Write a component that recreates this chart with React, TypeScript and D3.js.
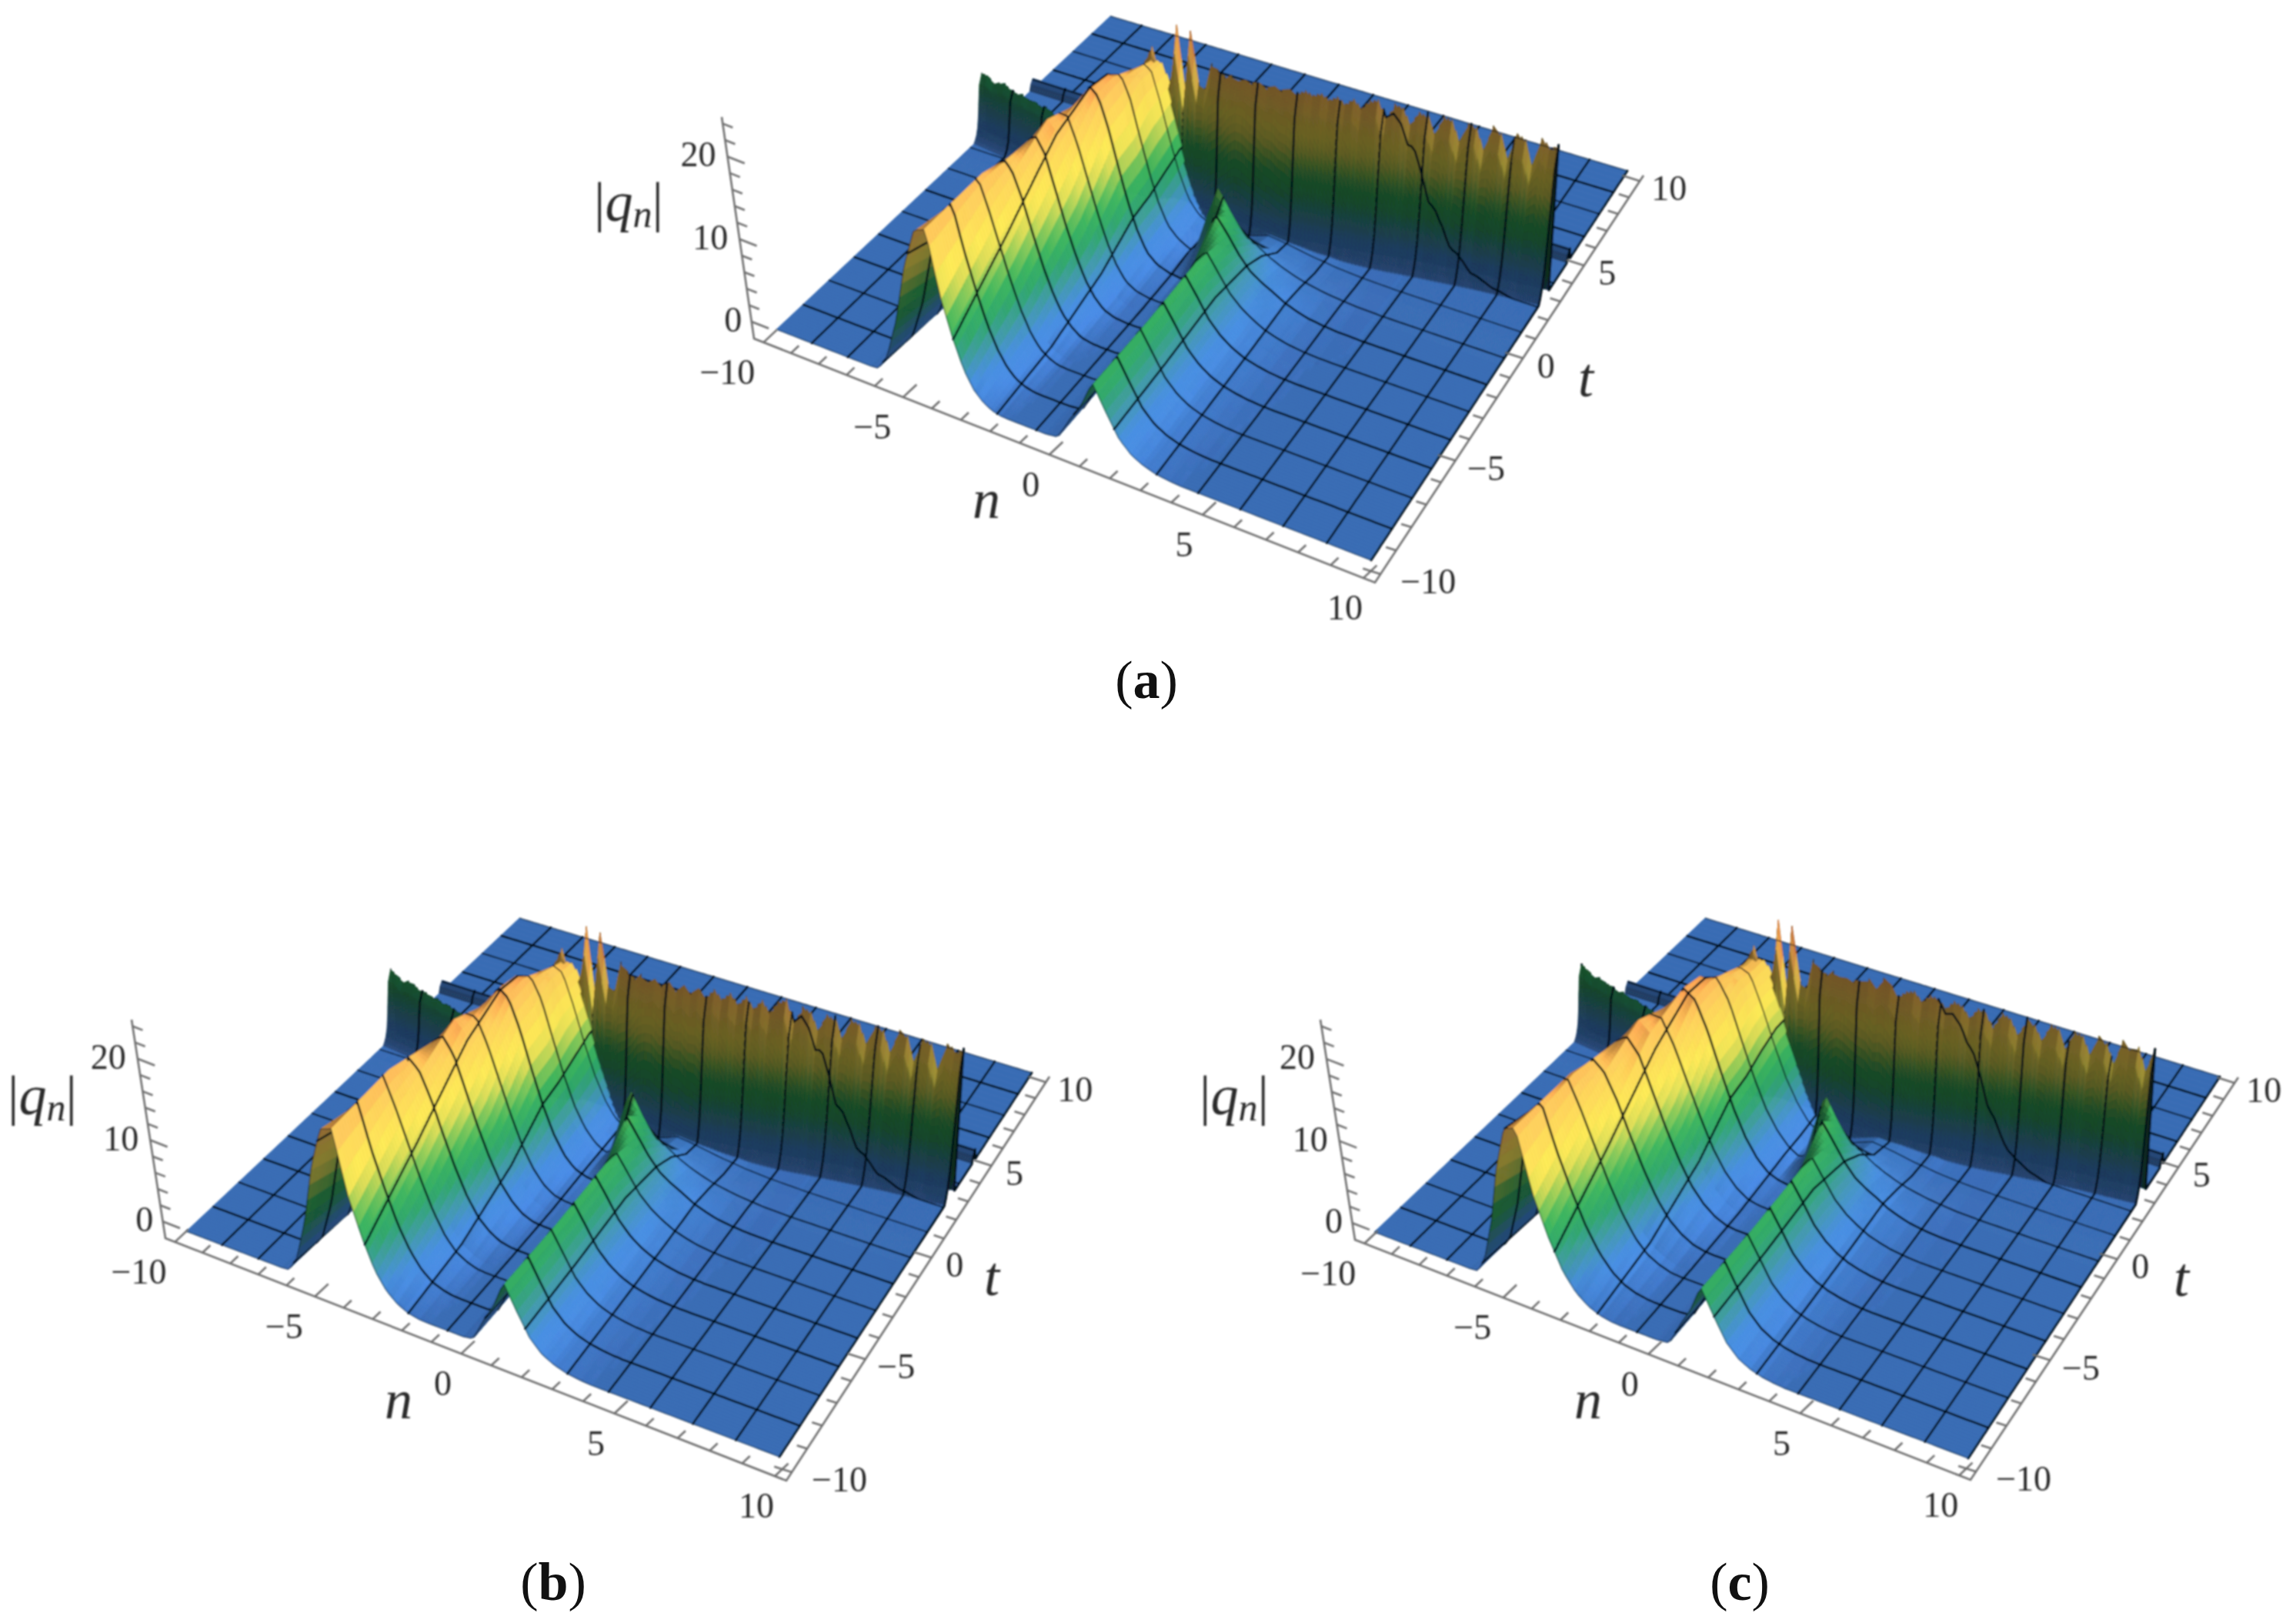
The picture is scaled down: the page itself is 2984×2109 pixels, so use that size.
import React, { useEffect, useRef } from 'react';
import * as d3 from 'd3';

const nCols = [-10, -8, -7, -6.7, -6.4, -6, -5.6, -5.2, -4.8, -4.4, -4, -3.6, -3.2, -2.8, -2.4, -2, -1.6, -1.2, -0.8, -0.4, 0, 0.4, 0.8, 1.2, 1.6, 2, 2.4, 2.8, 3.2, 3.6, 4, 4.5, 5, 6, 7, 10];
const rowTimes = [-10, -7, -4, -2, -1, 0, 1];
const rowM10 = [0, 0, 0, 0.1, 2, 7, 14, 19, 19.5, 12, 7.5, 4, 2, 0.9, 0.3, 0.05, 0, 0, 0, 0, 0.2, 2.8, 5, 8.2, 5.4, 2.8, 1.4, 0.7, 0.3, 0.1, 0, 0, 0, 0, 0, 0];
const rowM7 = [0, 0, 0, 0, 1, 5, 11, 17, 20, 17, 13, 9, 5.6, 3, 1.4, 0.6, 0.1, 0, 0, 0, 0.2, 2.6, 4.9, 8.2, 5.8, 3.4, 2, 1.1, 0.6, 0.3, 0.1, 0, 0, 0, 0, 0];
const rowM4 = [0, 0, 0, 0, 0.5, 3, 7.5, 13, 18, 20.3, 19, 15, 10.8, 7.2, 4.2, 2.2, 0.9, 0.2, 0, 0, 0.2, 2.6, 5, 8.6, 6.5, 4.2, 2.7, 1.7, 1, 0.6, 0.3, 0.1, 0, 0, 0, 0];
const rowM2 = [0, 0, 0, 0, 0.2, 2, 5.5, 10, 14, 18, 20.5, 19.5, 16, 11.5, 7.4, 4.2, 2, 0.7, 0.2, 0, 0.6, 4, 9.5, 7.5, 5.4, 3.8, 2.9, 2.2, 1.4, 0.9, 0.5, 0.25, 0.1, 0, 0, 0];
const rowM1 = [0, 0, 0, 0, 0.2, 1.8, 4.7, 9, 13.5, 17.5, 20, 19.8, 16.5, 12, 8, 4.6, 2.4, 1, 0.2, 1.5, 6, 10, 7.5, 5.4, 4, 3, 2.2, 1.6, 1.1, 0.8, 0.5, 0.3, 0.1, 0, 0, 0];
const row0 = [0, 0, 0, 0, 0.3, 1.4, 3.6, 7.2, 11, 14.5, 17.5, 19, 18, 13.6, 9, 5.4, 2.8, 1.1, 0.3, 0.1, 0.1, 0.6, 1.2, 2, 1.8, 1.4, 1.1, 0.8, 0.6, 0.4, 0.3, 0.15, 0.08, 0, 0, 0];
const row1 = [0, 0, 0, 0, 0.2, 1, 3, 6, 9.4, 12.8, 15.7, 18, 17.6, 14.2, 10, 6.2, 3.4, 1.4, 0.5, 0.2, 0.1, 0.4, 0.8, 1.2, 1.1, 1, 0.8, 0.6, 0.5, 0.3, 0.2, 0.1, 0.05, 0, 0, 0];
const rows = [rowM10, rowM7, rowM4, rowM2, rowM1, row0, row1];

// where the wall starts on the floor, per n
const footN = [-10, -6, -4, -3, -2.5, -2, -1, 0, 2, 4, 6, 8, 10];
const footT = [0.9, 0.4, 0.2, 0.4, 0.7, 0.7, 0.65, 0.55, 0.65, 1.05, 1.5, 1.85, 2.1];
const riseDt = [0, 0.1, 0.2, 0.3, 0.4, 0.5, 0.6, 0.8, 0.84];
const riseFrac = [0, 0.04, 0.1, 0.2, 0.38, 0.62, 0.85, 1, 0];

// low dark band on the floor behind the wall
const bandT = [4.45, 4.55, 4.7, 4.75];
const bandZ = [0, 0.8, 1.3, 0];

// wall crest per n, -10 to 10 in steps of 0.25
const crestA = [7.8, 7.9, 7.2, 7.5, 7.7, 7.3, 7.1, 7.3, 6.9, 7.1, 6.8, 7, 6.6, 6, 5, 4, 3, 2, 1, 0, 0, 0, 0, 0, 0, 0, 0, 17.5, 19.5, 16, 15, 22.5, 14, 22.5, 16, 15.5, 19, 18.5, 18, 18.5, 18, 18.6, 18.3, 18.7, 18.2, 18.8, 18.4, 18.9, 18.5, 19, 18.6, 19, 18.4, 18.9, 18.2, 19, 18, 19.2, 19.6, 17.6, 19.2, 19, 17.2, 19, 18.7, 16.6, 18.8, 18.5, 16, 18.6, 18.2, 15.6, 18.6, 18, 15.2, 18.6, 17.8, 15, 18.6, 17.5, 18];
const crestB = [8.6, 8.2, 7.6, 8, 7.8, 7.4, 7.5, 7.2, 7.3, 7, 7.1, 6.8, 6.6, 6, 5, 4, 3, 2, 1, 0, 0, 0, 0, 0, 0, 0, 0, 17.5, 19.5, 16, 15, 22.5, 14, 22.5, 16, 15.5, 19.4, 18.5, 18, 18.8, 18, 18.9, 18.1, 19, 18, 19.1, 18.2, 19.2, 18.2, 19.3, 18.3, 19.2, 18, 19.1, 17.8, 19, 17.6, 19.2, 19.8, 17.2, 19, 18.6, 16.6, 18.8, 18.4, 16.2, 18.6, 18.2, 15.8, 18.4, 18, 15.4, 18.2, 17.8, 15, 18, 17.4, 14.6, 18, 17.2, 17.6];
const crestC = [8.8, 8.4, 7.8, 8, 7.6, 7.6, 7.2, 7.4, 7, 7.2, 6.9, 6.8, 6.5, 6, 5, 4, 3, 2, 1, 0, 0, 0, 0, 0, 0, 0, 0, 17.5, 19.5, 16, 15, 23, 14, 23, 16, 15.5, 19.4, 18.6, 18.2, 18.9, 18.4, 18.7, 18.5, 18.8, 19.2, 18.3, 19.8, 19.4, 18, 18.8, 19, 17.9, 18.8, 18.6, 17.6, 18.6, 18.2, 17, 18.4, 18, 16.4, 18.2, 17.8, 16, 18, 17.6, 15.8, 17.8, 17.4, 15.4, 17.6, 17.2, 15, 17.6, 17, 14.6, 17.6, 16.8, 17.4, 14.6, 17.4];

// colours of the surface against height
const zStops = [0, 2.5, 4.5, 6.5, 8.5, 10.5, 12, 14, 18, 20, 20.8, 21.6, 27];
const zColors = ['#417bd0', '#3f7fc8', '#3a8a96', '#2a9560', '#36a254', '#7fb54f', '#c4c64e', '#e6d24e', '#f6bb54', '#fba552', '#f08a48', '#d0402e', '#a02020'];

const nTicks = d3.range(-10, 10.5, 1);
const tTicks = d3.range(-10, 10.5, 1);
const zTicks = d3.range(0, 24.5, 2);
const meshVals = d3.range(0, 16).map(k => -10 + (k * 4) / 3);

type Pt = [number, number];
interface Panel {
  name: string;
  corners: Pt[]; // surface: (-10,-10) (10,-10) (10,10) (-10,10)
  box: Pt[]; // axis box, same order
  zTop: Pt;
  crest: number[];
  warpTo: number[];
  footShift: number;
  q: Pt;
  nLab: Pt;
  tLab: Pt;
  cap: Pt;
}

const warpFrom = [-10, -6.7, -5, -1.5, 1.2, 10];

const panels: Panel[] = [
  {
    name: 'a',
    corners: [[1009, 428], [1782, 728], [2115, 222], [1443, 21]],
    box: [[980, 440], [1787, 757], [2136, 228], [1440, 6]],
    zTop: [938, 152],
    crest: crestA,
    warpTo: [-10, -6.2, -4.1, -1.5, 1.35, 10],
    footShift: 0,
    q: [817, 267],
    nLab: [1282, 655],
    tLab: [2061, 497],
    cap: [1490, 885],
  },
  {
    name: 'b',
    corners: [[242, 1600], [1013, 1893], [1341, 1394], [675, 1193]],
    box: [[215, 1609], [1022, 1924], [1364, 1399], [672, 1178]],
    zTop: [171, 1325],
    crest: crestB,
    warpTo: [-10, -6.2, -4.3, -1.2, 1.35, 10],
    footShift: 0,
    q: [55, 1428],
    nLab: [518, 1825],
    tLab: [1289, 1665],
    cap: [719, 2057],
  },
  {
    name: 'c',
    corners: [[1786, 1601], [2558, 1895], [2885, 1399], [2216, 1193]],
    box: [[1761, 1611], [2561, 1923], [2909, 1400], [2213, 1178]],
    zTop: [1716, 1325],
    crest: crestC,
    warpTo: [-10, -6.2, -4.5, -1, 1.6, 10],
    footShift: 0.3,
    q: [1604, 1428],
    nLab: [2064, 1825],
    tLab: [2835, 1666],
    cap: [2261, 2057],
  },
];

// perspective map of the unit square onto a quad
function quadMap(q: Pt[]) {
  const [[x0, y0], [x1, y1], [x2, y2], [x3, y3]] = q;
  const sx = x0 - x1 + x2 - x3;
  const sy = y0 - y1 + y2 - y3;
  const dx1 = x1 - x2, dx2 = x3 - x2, dy1 = y1 - y2, dy2 = y3 - y2;
  const den = dx1 * dy2 - dx2 * dy1;
  const g = (sx * dy2 - dx2 * sy) / den;
  const h = (dx1 * sy - sx * dy1) / den;
  const a = x1 - x0 + g * x1, b = x3 - x0 + h * x3;
  const d = y1 - y0 + g * y1, e = y3 - y0 + h * y3;
  return (u: number, v: number): Pt => {
    const w = g * u + h * v + 1;
    return [(a * u + b * v + x0) / w, (d * u + e * v + y0) / w];
  };
}

const f1 = (v: number) => v.toFixed(1);

function drawPanel(root: any, p: Panel) {
  const g = root.append('g').attr('filter', 'url(#soft)');

  const nU = d3.scaleLinear().domain([-10, 10]).range([0, 1]);
  const tV = d3.scaleLinear().domain([-10, 10]).range([0, 1]);
  const zPx = d3.scaleLinear().domain([0, 25]).range([0, 268]);
  const floor = quadMap(p.corners);
  const left = p.corners[0];
  const vanish: Pt = [left[0] + 671, left[1] + 4640];

  const project = (n: number, t: number, z: number): Pt => {
    const [bx, by] = floor(nU(n), tV(t));
    const dx = bx - vanish[0], dy = by - vanish[1];
    const len = Math.hypot(dx, dy);
    const s = zPx(z) * (1 + (by - left[1]) * 0.0003);
    return [bx + (dx / len) * s, by + (dy / len) * s];
  };

  // height field from the tables
  const rowScales = rows.map(r => d3.scaleLinear().domain(nCols).range(r));
  const rowPos = d3.scaleLinear().domain(rowTimes).range(d3.range(rowTimes.length)).clamp(true);
  const warp = d3.scaleLinear().domain(p.warpTo).range(warpFrom);
  const foot = d3.scaleLinear().domain(footN).range(footT.map(v => v + p.footShift));
  const crest = d3.scaleLinear().domain(d3.range(-10, 10.01, 0.25)).range(p.crest);
  const rise = d3.scaleLinear().domain(riseDt).range(riseFrac).clamp(true);
  const band = d3.scaleLinear().domain(bandT).range(bandZ).clamp(true);

  const height = (n: number, t: number) => {
    const pos = rowPos(t);
    const i = Math.min(Math.floor(pos), rows.length - 2);
    const m = warp(n);
    const field = rowScales[i](m) * (1 - (pos - i)) + rowScales[i + 1](m) * (pos - i);
    const dt = t - foot(n);
    const r = rise(dt);
    const wall = crest(n) * r;
    const cut = dt > 0.8 ? r : 1;
    const z = Math.max(field, wall) * cut + band(t);
    return z < 0.02 ? 0 : z;
  };

  const uniq = (a: number[]) => Array.from(new Set(a.map(v => +v.toFixed(4)))).sort((x, y) => x - y);
  const nGrid = uniq([...d3.range(-10, 10.01, 0.125), ...meshVals, 10]);
  const tGrid = uniq([
    ...d3.range(-10, -1, 0.125),
    ...d3.range(-1, 0.2, 0.05),
    ...d3.range(0.2, 3.2, 0.025),
    ...d3.range(3.2, 4.9, 0.05),
    ...d3.range(4.9, 10.01, 0.3),
    ...meshVals,
    10,
  ]);
  const meshKeys = new Set(meshVals.map(v => +v.toFixed(4)));
  const nMeshIdx = nGrid.map((v, i) => (meshKeys.has(v) && v !== -10 ? i : -1)).filter(i => i >= 0);

  const Z = tGrid.map(t => nGrid.map(n => height(n, t)));
  const P = tGrid.map((t, r) => nGrid.map((n, c) => project(n, t, Z[r][c])));

  const colorOf = d3.scaleLinear<string>().domain(zStops).range(zColors).interpolate(d3.interpolateRgb).clamp(true);
  const q2 = (v: number) => Math.min(255, Math.round(v / 2) * 2);

  const cellColor = (r: number, c: number) => {
    const z00 = Z[r][c], z01 = Z[r][c + 1], z10 = Z[r + 1][c], z11 = Z[r + 1][c + 1];
    const zm = (z00 + z01 + z10 + z11) / 4;
    const dn = nGrid[c + 1] - nGrid[c];
    const dt = tGrid[r + 1] - tGrid[r];
    const gn = (((z01 + z11) - (z00 + z10)) / 2 / dn) * 0.28;
    const gt = (((z10 + z11) - (z00 + z01)) / 2 / dt) * 0.28;
    const len = Math.hypot(gn, gt, 1);
    const Nn = -gn / len, Nt = -gt / len;
    const back = Math.min(Nt, 0);
    let s = 0.87 + (Nn > 0 ? 0.5 * Nn : 0.3 * Nn) * (1 + back) + 0.42 * back;
    s = Math.max(0.42, Math.min(1.12, s));
    // the far side of the wall only shows at its cut end, where it reads as a dark edge
    if (Nt > 0.5) s = 0.3;
    // the two tall spikes stay bright in the original
    if (zm > 20.6) s = Math.max(s, 0.85);
    const col = d3.rgb(colorOf(zm));
    return `rgb(${q2(col.r * s)},${q2(col.g * s)},${q2(col.b * s)})`;
  };

  const lineColor = '#050e18';
  const polyline = (pts: Pt[]) => 'M' + pts.map(q => `${f1(q[0])},${f1(q[1])}`).join('L');

  // far rows first, so nearer cells cover what they hide
  for (let r = tGrid.length - 2; r >= 0; r--) {
    let c = 0;
    while (c < nGrid.length - 1) {
      const col = cellColor(r, c);
      let e = c + 1;
      while (e < nGrid.length - 1 && cellColor(r, e) === col) e++;
      const top = P[r + 1].slice(c, e + 1);
      const bottom = P[r].slice(c, e + 1).reverse();
      g.append('path')
        .attr('d', polyline([...top, ...bottom]) + 'Z')
        .attr('fill', col)
        .attr('stroke', col)
        .attr('stroke-width', 0.7);
      c = e;
    }
    const nSegs = nMeshIdx.map(i => polyline([P[r + 1][i], P[r][i]])).join('');
    g.append('path')
      .attr('d', nSegs)
      .attr('fill', 'none')
      .attr('stroke', lineColor)
      .attr('stroke-width', 2.7)
      .attr('stroke-linecap', 'round');
    // the t line on the far edge of the next row is drawn once that row is down
    const k = r + 1;
    if (k < tGrid.length - 1 && meshKeys.has(tGrid[k])) {
      g.append('path')
        .attr('d', polyline(P[k]))
        .attr('fill', 'none')
        .attr('stroke', lineColor)
        .attr('stroke-width', 2.7);
    }
  }
  // outline of the near edges
  const edge = [...P[0], ...P.map(row => row[row.length - 1])];
  g.append('path')
    .attr('d', polyline(edge))
    .attr('fill', 'none')
    .attr('stroke', lineColor)
    .attr('stroke-width', 1.2)
    .attr('opacity', 0.6);
  g.append('path')
    .attr('d', polyline([...P[tGrid.length - 1]]))
    .attr('fill', 'none')
    .attr('stroke', lineColor)
    .attr('stroke-width', 1.4)
    .attr('opacity', 0.7);

  // axes
  const boxU = d3.scaleLinear().domain([-10.35, 10.35]).range([0, 1]);
  const box = quadMap(p.box);
  const unit = (a: Pt, b: Pt): Pt => {
    const l = Math.hypot(b[0] - a[0], b[1] - a[1]);
    return [(b[0] - a[0]) / l, (b[1] - a[1]) / l];
  };
  const axisColor = '#6e6e6e';
  const ax = root.append('g').attr('filter', 'url(#soft)').attr('stroke', axisColor).attr('stroke-width', 2.6).attr('fill', 'none');
  const [A, B, C, D] = p.box;
  ax.append('path').attr('d', polyline([p.zTop, A, B, C]));

  const zAxisPos = d3.scaleLinear().domain([-2.05, 24.8]).range([0, 1]);
  const nDir = unit(A, D);
  const tDir = unit(C, D);
  const zDir = unit(A, B);
  const text = root.append('g').attr('filter', 'url(#soft)')
    .attr('font-family', '"Liberation Serif", serif').attr('fill', '#2b2b2b').attr('text-anchor', 'middle');

  const label = (v: number) => (v < 0 ? '\u2212' + Math.abs(v) : String(v));
  nTicks.forEach(v => {
    const at = box(boxU(v), 0);
    const big = v % 5 === 0;
    const l = big ? 24 : 14;
    ax.append('path').attr('d', polyline([at, [at[0] + nDir[0] * l, at[1] + nDir[1] * l]]));
    if (big) {
      const dx = v < 0 ? (v === -10 ? -47 : -40) : -24;
      text.append('text').attr('x', at[0] + dx).attr('y', at[1] + 54).attr('font-size', 46).text(label(v));
    }
  });
  tTicks.forEach(v => {
    const at = box(1, boxU(v));
    const big = v % 5 === 0;
    const l = big ? 24 : 14;
    ax.append('path').attr('d', polyline([at, [at[0] + tDir[0] * l, at[1] + tDir[1] * l]]));
    if (big) {
      const dx = v < 0 ? (v === -10 ? 62 : 40) : v === 10 ? 38 : 30;
      text.append('text').attr('x', at[0] + dx).attr('y', at[1] + 25).attr('font-size', 46).text(label(v));
    }
  });
  zTicks.forEach(v => {
    const f = zAxisPos(v);
    const at: Pt = [A[0] + (p.zTop[0] - A[0]) * f, A[1] + (p.zTop[1] - A[1]) * f];
    const big = v % 10 === 0;
    const l = big ? 24 : 14;
    ax.append('path').attr('d', polyline([at, [at[0] + zDir[0] * l, at[1] + zDir[1] * l]]));
    if (big) {
      const dx = v === 0 ? -24 : -38;
      text.append('text').attr('x', at[0] + dx).attr('y', at[1] + 13).attr('font-size', 46).text(String(v));
    }
  });

  // axis names
  const qText = text.append('text').attr('x', p.q[0]).attr('y', p.q[1] + 20).attr('font-size', 72);
  qText.append('tspan').text('|');
  qText.append('tspan').attr('font-style', 'italic').text('q');
  qText.append('tspan').attr('font-style', 'italic').attr('font-size', 50).attr('dy', 8).text('n');
  qText.append('tspan').attr('dy', -8).text('|');
  text.append('text').attr('x', p.nLab[0]).attr('y', p.nLab[1] + 18).attr('font-size', 72).attr('font-style', 'italic').text('n');
  text.append('text').attr('x', p.tLab[0]).attr('y', p.tLab[1] + 18).attr('font-size', 72).attr('font-style', 'italic').text('t');

  // caption
  const cap = root.append('text').attr('x', p.cap[0]).attr('y', p.cap[1] + 22)
    .attr('font-family', '"Liberation Serif", serif').attr('font-size', 70).attr('text-anchor', 'middle').attr('fill', '#111');
  cap.append('tspan').text('(');
  cap.append('tspan').attr('font-weight', 'bold').text(p.name);
  cap.append('tspan').text(')');
}

const App = () => {
  const svgRef = useRef<SVGSVGElement>(null);

  useEffect(() => {
    const svg = d3.select(svgRef.current);
    svg.selectAll('*').remove();
    svg.append('defs').append('filter')
      .attr('id', 'soft')
      .attr('x', 0).attr('y', 0).attr('width', 2984).attr('height', 2109)
      .attr('filterUnits', 'userSpaceOnUse')
      .append('feGaussianBlur')
      .attr('stdDeviation', 1.1);
    panels.forEach(p => drawPanel(svg, p));
  }, []);

  return (
    <svg
      ref={svgRef}
      width={2984}
      height={2109}
      viewBox="0 0 2984 2109"
      style={{ position: 'absolute', left: 0, top: 0, background: '#fff' }}
    />
  );
};

export default App;
